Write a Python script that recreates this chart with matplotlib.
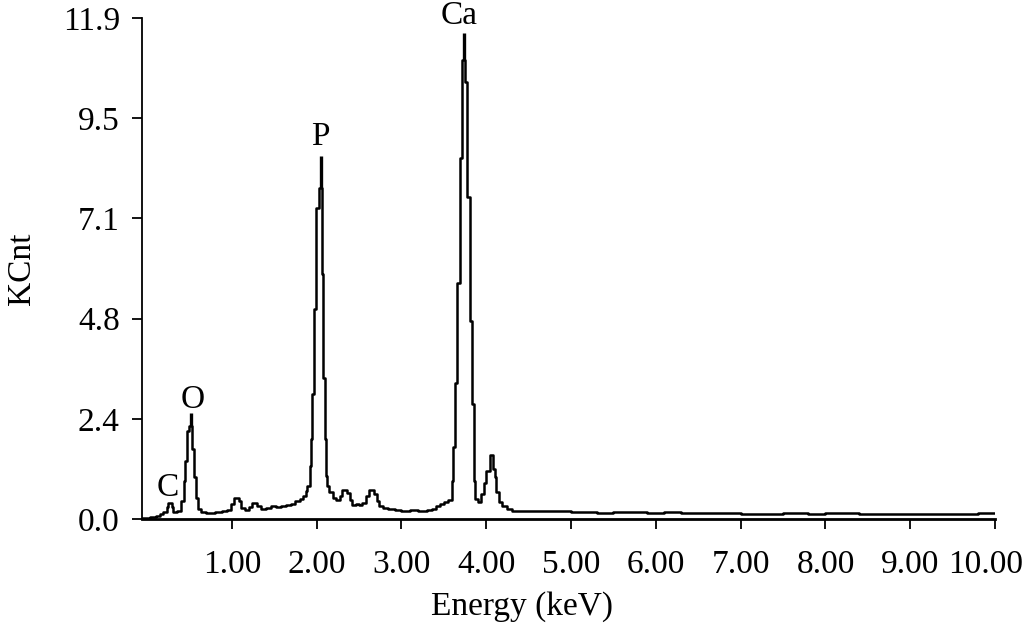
import matplotlib
matplotlib.use("Agg")
import matplotlib.pyplot as plt
from matplotlib.transforms import ScaledTranslation

plt.rcParams['font.family'] = ['Liberation Serif', 'DejaVu Serif']

# Spectrum: bin start energies (keV) and counts (KCnt)
energy = [-0.06, 0.03, 0.11, 0.15, 0.19, 0.23, 0.25, 0.29, 0.31, 0.35,
          0.40, 0.43, 0.45, 0.47, 0.49, 0.535, 0.555, 0.575, 0.595, 0.63,
          0.70, 0.80, 0.88, 0.94, 0.99, 1.02, 1.08, 1.11, 1.16, 1.20,
          1.24, 1.30, 1.34, 1.40, 1.46, 1.52, 1.58, 1.64, 1.70, 1.74,
          1.80, 1.84, 1.87, 1.89, 1.92, 1.93, 1.95, 1.97, 1.99, 2.03,
          2.065, 2.08, 2.095, 2.11, 2.125, 2.15, 2.19, 2.23, 2.27, 2.30,
          2.36, 2.39, 2.42, 2.46, 2.50, 2.54, 2.58, 2.62, 2.68, 2.71,
          2.74, 2.78, 2.84, 2.92, 3.00, 3.10, 3.20, 3.30, 3.36, 3.41,
          3.46, 3.50, 3.55, 3.59, 3.61, 3.63, 3.65, 3.69, 3.71, 3.75,
          3.77, 3.81, 3.83, 3.85, 3.87, 3.90, 3.94, 3.97, 4.00, 4.04,
          4.08, 4.10, 4.12, 4.15, 4.19, 4.24, 4.30, 4.40, 4.60, 4.80,
          5.00, 5.20, 5.30, 5.50, 5.90, 6.10, 6.30, 6.50, 7.00, 7.50,
          7.80, 8.00, 8.40, 8.80, 9.20, 9.60, 9.80, 10.00]
kcnt = [0.02, 0.04, 0.07, 0.12, 0.16, 0.28, 0.39, 0.28, 0.16, 0.20,
        0.43, 0.91, 1.38, 2.09, 2.21, 1.66, 0.99, 0.51, 0.24, 0.16,
        0.14, 0.16, 0.18, 0.22, 0.35, 0.51, 0.42, 0.27, 0.22, 0.28,
        0.38, 0.30, 0.24, 0.26, 0.30, 0.28, 0.32, 0.33, 0.36, 0.42,
        0.48, 0.55, 0.66, 0.79, 1.26, 1.90, 2.96, 4.98, 7.39, 7.86,
        5.81, 3.36, 1.90, 1.03, 0.79, 0.65, 0.50, 0.45, 0.55, 0.70,
        0.62, 0.45, 0.33, 0.36, 0.33, 0.38, 0.55, 0.70, 0.60, 0.42,
        0.30, 0.26, 0.24, 0.22, 0.20, 0.22, 0.20, 0.22, 0.24, 0.30,
        0.36, 0.40, 0.45, 0.91, 1.70, 3.24, 5.61, 8.58, 10.90, 10.39,
        7.66, 4.70, 2.73, 0.91, 0.47, 0.40, 0.59, 0.85, 1.14, 1.52,
        1.20, 1.00, 0.64, 0.40, 0.30, 0.24, 0.20, 0.19, 0.20, 0.19,
        0.17, 0.16, 0.14, 0.16, 0.15, 0.16, 0.15, 0.14, 0.13, 0.14,
        0.13, 0.14, 0.13, 0.12, 0.13, 0.12, 0.14, 0.14]

# Peak labels: element, label x, label y, marker x, marker bottom, marker top
peak_names = ['C', 'O', 'P', 'Ca']
label_x = [0.245, 0.535, 2.04, 3.68]
label_y = [0.74, 2.83, 9.07, 11.95]
marker_x = [None, 0.515, 2.045, 3.735]
marker_lo = [None, 2.21, 7.86, 10.90]
marker_hi = [None, 2.52, 8.62, 11.54]

yticks = [0.0, 2.38, 4.76, 7.14, 9.52, 11.9]
ytick_labels = ['0.0', '2.4', '4.8', '7.1', '9.5', '11.9']
xticks = [1, 2, 3, 4, 5, 6, 7, 8, 9, 10]
xtick_labels = ['1.00', '2.00', '3.00', '4.00', '5.00', '6.00', '7.00',
                '8.00', '9.00', '10.00']

FS = 24

fig = plt.figure(figsize=(10.24, 6.27), dpi=100)
ax = fig.add_axes([0.1387, 0.1722, 0.833, 0.7991])

ax.step(energy, kcnt, where='post', color='black', lw=1.8)

for name, lx, ly, mx, lo, hi in zip(peak_names, label_x, label_y,
                                     marker_x, marker_lo, marker_hi):
    if mx is not None:
        ax.plot([mx, mx], [lo, hi], color='black', lw=2.4,
                solid_capstyle='butt', clip_on=False)
    ax.text(lx, ly, name, ha='center', va='center', fontsize=FS,
            clip_on=False)

ax.set_xlim(-0.06, 10.0)
ax.set_ylim(0, 11.9)
ax.set_yticks(yticks)
ax.set_yticklabels(ytick_labels)
ax.set_xticks(xticks)
ax.set_xticklabels(xtick_labels)

for s in ['top', 'right']:
    ax.spines[s].set_visible(False)
ax.spines['left'].set_linewidth(1.3)
ax.spines['bottom'].set_linewidth(2.0)
ax.tick_params(axis='both', direction='out', labelsize=FS, width=1.3,
               length=7, color='black')
ax.tick_params(axis='x', pad=15)
ax.tick_params(axis='y', pad=9)

# nudge the last x tick label so it stays inside the figure
last = ax.get_xticklabels()[-1]
last.set_transform(last.get_transform() +
                   ScaledTranslation(-9 / 100, 0, fig.dpi_scale_trans))

ax.set_xlabel('Energy (keV)', fontsize=FS)
ax.set_ylabel('KCnt', fontsize=FS)
ax.xaxis.set_label_coords(0.445, -0.174)
ax.yaxis.set_label_coords(-0.141, 0.5)
ax.xaxis.label.set_verticalalignment('center')
ax.yaxis.label.set_verticalalignment('center')

fig.savefig('out.png', dpi=100, facecolor='white')
